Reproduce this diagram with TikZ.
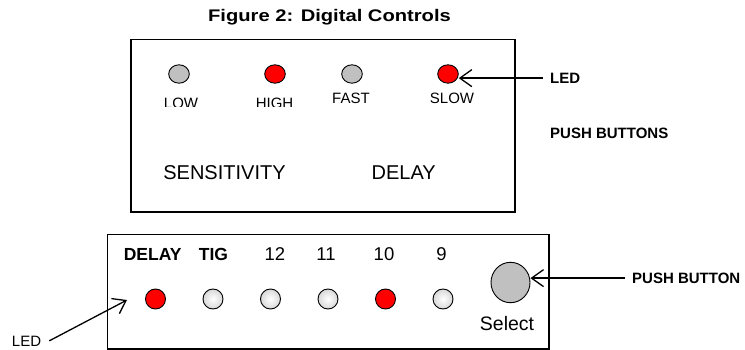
\documentclass[tikz,border=0pt]{standalone}
\usepackage{fontspec}
\setmainfont{Liberation Sans}
\newfontfamily\titlefont[FakeStretch=1.2]{Liberation Sans}
\usetikzlibrary{shapes.geometric,arrows.meta}
\definecolor{ledred}{HTML}{FF0000}
\definecolor{ledgray}{HTML}{C0C0C0}
\definecolor{ledwhite}{HTML}{D8D8D8}
\tikzset{
  panel/.style={draw=black, line width=1.5pt, fill=none, inner sep=0pt},
  ledtop/.style={ellipse, draw=black, line width=0.9pt, minimum width=20.6pt, minimum height=18.4pt, inner sep=0pt},
  ledbot/.style={circle, draw=black, line width=0.9pt, minimum size=20pt, inner sep=0pt},
  redled/.style={fill=ledred},
  grayled/.style={fill=ledgray},
  whiteled/.style={inner color=white, outer color=ledwhite},
  lbl/.style={inner sep=0pt, font=\fontsize{15}{18}\selectfont},
  biglbl/.style={inner sep=0pt, font=\fontsize{20}{24}\selectfont},
  boldlbl/.style={inner xsep=7pt, inner ysep=0pt, font=\fontsize{15}{18}\selectfont\bfseries},
  rowlbl/.style={inner sep=0pt, font=\fontsize{17.5}{21}\selectfont\bfseries},
  numlbl/.style={inner sep=0pt, font=\fontsize{18.5}{22}\selectfont},
  arr/.style={line width=1.3pt, -{Straight Barb[length=12pt,width=17pt,line width=1.3pt]}},
}
\begin{document}
\begin{tikzpicture}[x=1pt, y=-1pt]
\useasboundingbox (0,0) rectangle (745,350);
% title
\node[inner sep=0pt, anchor=base, font=\titlefont\bfseries\fontsize{16.8}{20}\selectfont] (title) at (329.5,21.5) {Figure 2: Digital Controls};
% top panel
\node[panel, minimum width=384pt, minimum height=172.5pt] (toppanel) at (323,125.75) {};
\node[ledtop, grayled] (low) at (179,74) {};
\node[ledtop, redled] (high) at (275,74) {};
\node[ledtop, grayled] (fast) at (352,74) {};
\node[ledtop, redled] (slow) at (448,74) {};
\begin{scope}
\clip (140,60) rectangle (310,106.7);
\node[lbl, anchor=base] (lowl) at (181,108.3) {LOW};
\node[lbl, anchor=base] (highl) at (274.5,108.3) {HIGH};
\end{scope}
\node[lbl, anchor=base] (fastl) at (351,103.3) {FAST};
\node[lbl, anchor=base] (slowl) at (452,103.3) {SLOW};
\node[biglbl, anchor=base] (sens) at (224.5,179.3) {SENSITIVITY};
\node[biglbl, anchor=base] (delayt) at (403.7,179.3) {DELAY};
% right labels
\node[boldlbl, anchor=base west] (ledlbl) at (543,83.3) {LED};
\node[boldlbl, anchor=base west] (pushbs) at (543,139) {PUSH BUTTONS};
\draw[arr] (ledlbl.west) -- (ledlbl.west -| slow.east);
% bottom panel
\node[panel, minimum width=441.5pt, minimum height=114.5pt] (botpanel) at (328.25,291.75) {};
\node[rowlbl, anchor=base] (delayb) at (152.7,260.7) {DELAY};
\node[rowlbl, anchor=base] (tig) at (213.5,260.7) {TIG};
\node[numlbl, anchor=base] (n12) at (275,260.7) {12};
\node[numlbl, anchor=base] (n11) at (326,260.7) {11};
\node[numlbl, anchor=base] (n10) at (384,260.7) {10};
\node[numlbl, anchor=base] (n9) at (441.5,260.7) {9};
\node[ledbot, redled] (d1) at (155.5,299) {};
\node[ledbot, whiteled] (d2) at (213,299) {};
\node[ledbot, whiteled] (d3) at (270.5,299) {};
\node[ledbot, whiteled] (d4) at (328,299) {};
\node[ledbot, redled] (d5) at (385.5,299) {};
\node[ledbot, whiteled] (d6) at (443,299) {};
\node[ellipse, draw=black, line width=0.9pt, fill=ledgray, minimum width=39pt, minimum height=40.4pt, inner sep=0pt] (btn) at (510.5,282.5) {};
\node[numlbl, anchor=base, font=\fontsize{19.5}{23}\selectfont] (sel) at (507,330.7) {Select};
\node[boldlbl, anchor=base west] (pbl) at (625,283.3) {PUSH BUTTON};
\draw[arr] (pbl.west) -- (pbl.west -| btn.east);
% bottom-left LED label
\node[inner xsep=8pt, inner ysep=0pt, anchor=base, font=\fontsize{15}{18}\selectfont] (ledb) at (26.5,346) {LED};
\coordinate (ledtip) at (127,300);
\draw[arr] (ledb.east) -- (ledtip);
\end{tikzpicture}
\end{document}
